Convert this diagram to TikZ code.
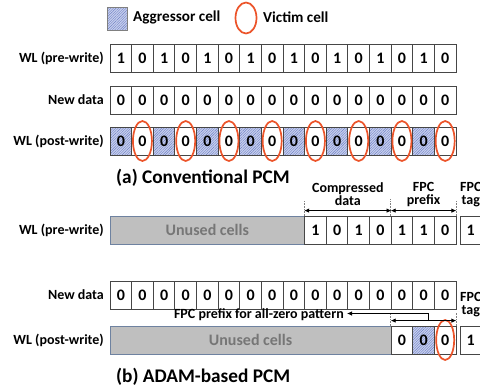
\documentclass[tikz,border=0pt]{standalone}
\usepackage{fontspec}
\setmainfont{Carlito}
\usetikzlibrary{patterns.meta,arrows.meta,calc,shapes.geometric}
\definecolor{hatchbg}{RGB}{200,208,238}
\definecolor{hatchln}{RGB}{110,128,196}
\definecolor{victimred}{RGB}{236,84,42}
\definecolor{cellline}{RGB}{70,70,70}
\definecolor{unusedfill}{RGB}{191,191,191}
\definecolor{unusedline}{RGB}{110,130,160}
\definecolor{unusedtext}{RGB}{118,118,118}
\tikzset{
  cellbox/.style={draw=cellline, line width=0.8pt, minimum width=21.625pt, minimum height=28pt, inner sep=0pt, font=\bfseries\fontsize{16}{16}\selectfont},
  hatchedcell/.style={cellbox, preaction={fill=hatchbg}, preaction={pattern={Lines[angle=45,distance=1.8pt,line width=0.4pt]}, pattern color=hatchln}},
  ringline/.style={draw=victimred, line width=1.7pt},
  rowlabel/.style={anchor=east, inner sep=0pt, font=\bfseries\fontsize{14}{14}\selectfont},
  legtext/.style={anchor=west, inner sep=0pt, font=\bfseries\fontsize{15.2}{15.2}\selectfont},
  lbl/.style={inner sep=0pt, align=center, font=\bfseries\fontsize{14}{13}\selectfont},
  capt/.style={anchor=west, inner sep=0pt, font=\bfseries\fontsize{19.3}{19.3}\selectfont},
  unusedbox/.style={draw=unusedline, line width=0.8pt, fill=unusedfill, minimum height=28pt, inner sep=0pt, text=unusedtext, font=\bfseries\fontsize{16}{16}\selectfont},
  tickline/.style={draw=gray, line width=0.6pt, dash pattern=on 1.5pt off 1.2pt},
  dimarrow/.style={line width=0.8pt, {Latex[length=5pt,width=4.5pt]}-{Latex[length=5pt,width=4.5pt]}},
  leadarrow/.style={line width=0.8pt, -{Latex[length=5pt,width=4.5pt]}}
}
\begin{document}
\begin{tikzpicture}[x=1pt,y=-1pt]
\useasboundingbox (0,0) rectangle (480,389);
\fill[white] (0,0) rectangle (480,389);
\clip (0,0) rectangle (480,389);

% legend
\node[hatchedcell, draw=gray, minimum width=20pt, minimum height=23pt] (legsq) at (117,19) {};
\node[legtext] (legagg) at (133,17) {Aggressor cell};
\node[ringline, ellipse, minimum width=21pt, minimum height=31pt, inner sep=0pt] (legring) at (246,18) {};
\node[legtext] (legvic) at (263,17) {Victim cell};

% (a) Conventional PCM
\node[rowlabel] (la1) at (104,58) {WL (pre-write)};
\node[rowlabel] (la2) at (104,100) {New data};
\node[rowlabel] (la3) at (104,141) {WL (post-write)};
\foreach \v [count=\i from 0] in {1,0,1,0,1,0,1,0,1,0,1,0,1,0,1,0}
  \node[cellbox] (a1-\i) at ({110+21.625*(\i+0.5)},58) {\v};
\foreach \i in {0,...,15}
  \node[cellbox] (a2-\i) at ({110+21.625*(\i+0.5)},100) {0};
\foreach \i in {0,2,...,14}
  \node[hatchedcell] (a3-\i) at ({110+21.625*(\i+0.5)},141) {0};
\foreach \i in {1,3,...,15}
  \node[cellbox] (a3-\i) at ({110+21.625*(\i+0.5)},141) {0};
\foreach \i in {1,3,...,15}
  \draw[ringline] (a3-\i.center) ellipse [x radius=9.5pt, y radius=20pt];
\node[capt] (capa) at (116,178) {(a) Conventional PCM};

% (b) ADAM-based PCM
\node[rowlabel] (lb1) at (104,230) {WL (pre-write)};
\node[rowlabel] (lb2) at (104,295) {New data};
\node[rowlabel] (lb3) at (104,340) {WL (post-write)};

\node[unusedbox, minimum width=194.625pt] (u1) at (207.3125,230) {Unused cells};
\foreach \v [count=\i from 9] in {1,0,1,0,1,1,0}
  \node[cellbox] (b1-\i) at ({110+21.625*(\i+0.5)},230) {\v};
\node[cellbox] (tag1) at (470.8,230) {1};

\draw[tickline] (b1-9.north west) -- ++(0,-16);
\draw[tickline] (b1-13.north west) -- ++(0,-17);
\draw[tickline] (b1-15.north east) -- ++(0,-16);
\draw[dimarrow] ($(b1-9.north west)+(0,-5)$) -- ($(b1-12.north east)+(0,-5)$);
\draw[dimarrow] ($(b1-13.north west)+(0,-5)$) -- ($(b1-15.north east)+(0,-5)$);
\node[lbl] (cdlab) at ($(b1-9.north west)!0.5!(b1-12.north east)+(0,-21.5)$) {Compressed\\data};
\node[lbl] (fplab) at ($(b1-13.north west)!0.5!(b1-15.north east)+(0,-21.5)$) {FPC\\prefix};
\node[lbl] (tglab1) at ($(tag1.north)+(0,-21.5)$) {FPC\\tag};

\foreach \i in {0,...,15}
  \node[cellbox] (b2-\i) at ({110+21.625*(\i+0.5)},295) {0};

\node[unusedbox, minimum width=281.125pt] (u3) at (250.5625,340) {Unused cells};
\node[cellbox] (b3-13) at ({110+21.625*13.5},340) {0};
\node[hatchedcell] (b3-14) at ({110+21.625*14.5},340) {0};
\node[cellbox] (b3-15) at ({110+21.625*15.5},340) {0};
\node[cellbox] (tag3) at (470.8,340) {1};
\draw[ringline] (b3-15.center) ellipse [x radius=9pt, y radius=20pt];

\draw[tickline] (b3-13.north west) -- ++(0,-13);
\draw[tickline] (b3-15.north east) -- ++(0,-13);
\draw[dimarrow] ($(b3-13.north west)+(0,-5)$) -- ($(b3-15.north east)+(0,-5)$);
\node[lbl, anchor=base east] (zlab) at (344,318) {FPC prefix for all-zero pattern};
\coordinate (pstart) at (428,321);
\coordinate (ptip) at (347,313.5);
\draw[leadarrow] (pstart) |- (ptip);
\node[lbl] (tglab3) at ($(tag3.north)+(0,-21.5)$) {FPC\\tag};

\node[capt] (capb) at (116,377) {(b) ADAM-based PCM};
\end{tikzpicture}
\end{document}
